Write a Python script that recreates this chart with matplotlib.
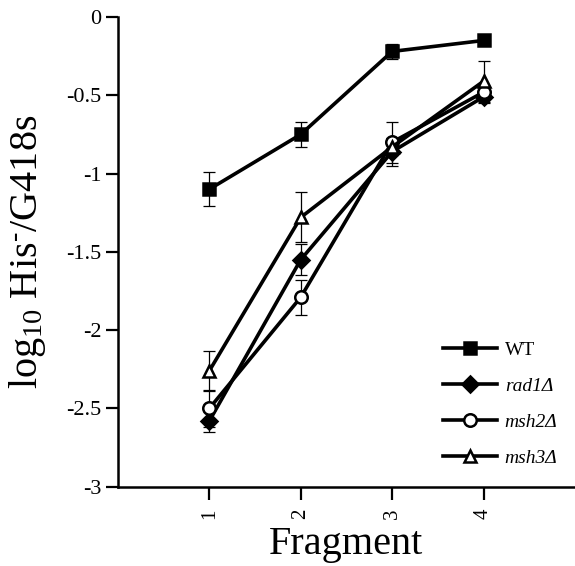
import numpy as np
import matplotlib
matplotlib.use("Agg")
import matplotlib.pyplot as plt

plt.rcParams['font.family'] = ['Liberation Serif', 'DejaVu Serif']
plt.rcParams['mathtext.fontset'] = 'custom'
plt.rcParams['mathtext.rm'] = 'Liberation Serif'
plt.rcParams['mathtext.it'] = 'Liberation Serif:italic'

fragments = [1, 2, 3, 4]

wt = [-1.10, -0.75, -0.22, -0.15]
wt_err = [0.11, 0.08, 0.05, 0.02]

rad1 = [-2.58, -1.55, -0.86, -0.51]
rad1_err = [0.07, 0.10, 0.09, 0.04]

msh2 = [-2.50, -1.79, -0.80, -0.48]
msh2_err = [0.12, 0.11, 0.13, 0.03]

msh3 = [-2.26, -1.28, -0.83, -0.41]
msh3_err = [0.13, 0.16, 0.05, 0.13]

series = [
    ("WT", wt, wt_err, 's', 'black', 9),
    ("rad1Δ", rad1, rad1_err, 'D', 'black', 8),
    ("msh2Δ", msh2, msh2_err, 'o', 'white', 9),
    ("msh3Δ", msh3, msh3_err, '^', 'white', 8),
]

fig = plt.figure(figsize=(5.75, 5.66), dpi=100)
ax = fig.add_axes([0.205, 0.140, 0.795, 0.830])

for label, vals, errs, marker, face, ms in series:
    ax.errorbar(fragments, vals, yerr=errs, fmt='none', ecolor='black',
                elinewidth=0.9, capsize=4, capthick=0.9, zorder=2)
    ax.plot(fragments, vals, color='black', lw=2.6, marker=marker, ms=ms,
            markerfacecolor=face, markeredgecolor='black', markeredgewidth=1.8,
            label=label, zorder=3)

ax.set_xlim(0, 5)
ax.set_ylim(-3, 0)
ax.set_xticks(fragments)
ax.set_xticklabels([str(f) for f in fragments], rotation=90)
ax.set_yticks([0, -0.5, -1, -1.5, -2, -2.5, -3])
ax.set_yticklabels(['0', '-0.5', '-1', '-1.5', '-2', '-2.5', '-3'])
ax.tick_params(axis='both', labelsize=16, width=1.6, length=9, direction='out')
ax.tick_params(axis='x', labelsize=15, pad=7)
ax.tick_params(axis='y', pad=3)

for side in ['top', 'right']:
    ax.spines[side].set_visible(False)
for side in ['left', 'bottom']:
    ax.spines[side].set_linewidth(1.8)

ax.set_ylabel(r'log$_{10}$ His$^{\text{-}}$/G418s', fontsize=29, labelpad=13)
ax.set_xlabel('Fragment', fontsize=29, labelpad=5)

leg = ax.legend(loc='lower right', bbox_to_anchor=(1.0, 0.005), frameon=False,
                fontsize=14, handlelength=2.8, labelspacing=0.95, handletextpad=0.4)
for t in leg.get_texts():
    if t.get_text() != 'WT':
        t.set_fontstyle('italic')

fig.savefig('out.png', dpi=100)
